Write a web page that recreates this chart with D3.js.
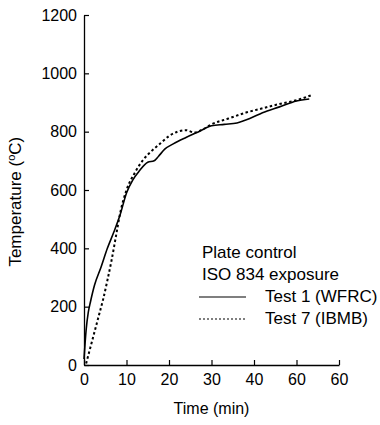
<!DOCTYPE html>
<html>
<head>
<meta charset="utf-8">
<script src="https://cdn.jsdelivr.net/npm/d3@7"></script>
<style>
body { margin: 0; background: #fff; }
svg { display: block; font-family: "Liberation Sans", Arial, sans-serif; }
</style>
</head>
<body>
<svg id="chart" width="380" height="425"></svg>
<script>
// courbes (temps en min, température en °C)
const test1_t = [0, 0.5, 1, 1.5, 2.5, 4, 5.5, 7, 8.5, 10, 11.5, 13, 15, 16.5, 17.5, 19, 21, 24, 27, 30, 33, 36, 39, 42, 46, 50, 53];
const test1_T = [20, 120, 180, 215, 275, 335, 400, 455, 515, 590, 635, 665, 695, 700, 715, 740, 758, 780, 800, 820, 825, 830, 845, 865, 885, 905, 912];
const test7_t = [0.5, 1.5, 2.5, 3.5, 4.5, 5.5, 6.5, 7.5, 8.5, 10, 12, 14, 16, 18, 20, 22, 24, 26, 28, 30, 34, 38, 42, 46, 50, 53.5];
const test7_T = [5, 60, 115, 170, 225, 290, 360, 440, 520, 600, 660, 705, 735, 760, 785, 800, 805, 797, 808, 825, 845, 865, 880, 895, 908, 925];
const xTicks = [0, 10, 20, 30, 40, 50, 60];
const xTickLabels = ["0", "10", "20", "30", "40", "60", "60"];
const yTicks = [0, 200, 400, 600, 800, 1000, 1200];
const legendTitle = ["Plate control", "ISO 834 exposure"];
const series = [
	{name: "Test 1 (WFRC)", t: test1_t, T: test1_T, dash: null},
	{name: "Test 7 (IBMB)", t: test7_t, T: test7_T, dash: "2.5,2.5"}
];

let svg = d3.select("#chart");
let x = d3.scaleLinear().domain([0, 60]).range([84, 339]);
let y = d3.scaleLinear().domain([0, 1200]).range([365, 15]);
let fs = 16;

// axes
svg.append("g")
	.attr("transform", `translate(0,${y(0)})`)
	.call(d3.axisBottom(x).tickValues(xTicks).tickSizeInner(-5).tickSizeOuter(0).tickPadding(9)
		.tickFormat((d, k) => xTickLabels[k]))
	.call(g => g.select(".domain").attr("stroke-width", 1.3))
	.call(g => g.selectAll("line").attr("stroke-width", 1.2))
	.call(g => g.selectAll("text").attr("font-size", fs).attr("font-family", null).attr("fill", "#000"));
svg.append("g")
	.attr("transform", `translate(${x(0)},0)`)
	.call(d3.axisLeft(y).tickValues(yTicks).tickSizeInner(-5).tickSizeOuter(0).tickPadding(7)
		.tickFormat(d3.format("d")))
	.call(g => g.select(".domain").attr("stroke-width", 1.3))
	.call(g => g.selectAll("line").attr("stroke-width", 1.2))
	.call(g => g.selectAll("text").attr("font-size", fs).attr("font-family", null).attr("fill", "#000"));

// titres des axes
svg.append("text")
	.attr("x", x(30)).attr("y", 414)
	.attr("text-anchor", "middle").attr("font-size", fs)
	.text("Time (min)");
let yl = svg.append("text")
	.attr("transform", `translate(21,${y(560)}) rotate(-90)`)
	.attr("text-anchor", "middle").attr("font-size", fs + 1);
yl.append("tspan").text("Temperature (");
yl.append("tspan").attr("font-size", 11).attr("dy", -6).text("o");
yl.append("tspan").attr("dy", 6).text("C)");

// courbes
let line = d3.line()
	.x(d => x(d[0]))
	.y(d => y(d[1]))
	.curve(d3.curveMonotoneX);
for (let s of series) {
	svg.append("path")
		.datum(s.t.map((t, k) => [t, s.T[k]]))
		.attr("d", line)
		.attr("fill", "none")
		.attr("stroke", "#000")
		.attr("stroke-width", s.dash ? 2 : 1.6)
		.attr("stroke-dasharray", s.dash);
}

// légende
legendTitle.forEach((txt, k) => {
	svg.append("text")
		.attr("x", 202).attr("y", 258 + k * 22)
		.attr("font-size", fs + 1)
		.text(txt);
});
series.forEach((s, k) => {
	let ly = 302 + k * 22;
	svg.append("line")
		.attr("x1", 199).attr("x2", 246)
		.attr("y1", ly - 5).attr("y2", ly - 5)
		.attr("stroke", "#000")
		.attr("stroke-width", 1.2)
		.attr("stroke-dasharray", s.dash ? "2,2" : null);
	svg.append("text")
		.attr("x", 265).attr("y", ly)
		.attr("font-size", fs + 1)
		.text(s.name);
});
</script>
</body>
</html>
